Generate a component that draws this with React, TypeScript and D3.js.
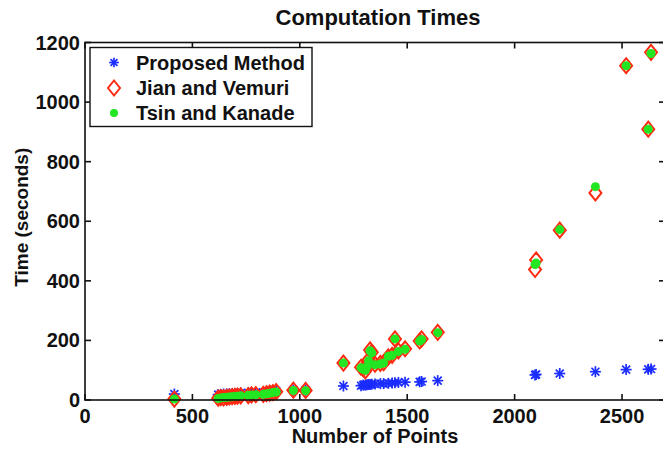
import React from "react";
import * as d3 from "d3";

// number of points in each test case
const nPoints = [
  416, 620, 632, 645, 660, 672, 685, 698, 710, 725, 760, 775, 795, 830, 845,
  860, 875, 890, 970, 1027, 1203, 1285, 1295, 1305, 1313, 1320, 1327, 1335,
  1350, 1375, 1390, 1412, 1430, 1443, 1459, 1490, 1558, 1567, 1642, 2095,
  2100, 2210, 2376, 2519, 2622, 2635,
];

// seconds
const proposedTimes = [
  20, 18, 19, 20, 20, 21, 21, 22, 22, 23, 24, 25, 25, 26, 27, 28, 29, 30, 33,
  33, 47, 48, 50, 50, 51, 52, 52, 53, 54, 55, 55, 56, 57, 58, 59, 60, 61, 62,
  65, 84, 86, 89, 95, 102, 103, 104,
];
const jianTimes = [
  3, 6, 8, 7, 9, 10, 11, 12, 13, 14, 15, 17, 18, 19, 21, 23, 25, 28, 33, 32,
  124, 110, 105, 98, 115, 135, 168, 160, 120, 123, 125, 145, 150, 205, 165,
  172, 198, 205, 227, 438, 470, 570, 695, 1122, 909, 1167,
];
const tsinTimes = [
  3, 5, 7, 8, 9, 10, 11, 12, 13, 14, 16, 17, 18, 19, 21, 23, 25, 27, 32, 31,
  124, 108, 103, 100, 112, 132, 165, 158, 118, 121, 124, 147, 150, 205, 163,
  170, 198, 203, 226, 455, 460, 572, 716, 1122, 909, 1163,
];

const xTicks = [0, 500, 1000, 1500, 2000, 2500];
const yTicks = [0, 200, 400, 600, 800, 1000, 1200];
const legendLabels = ["Proposed Method", "Jian and Vemuri", "Tsin and Kanade"];

const W = 663;
const H = 449;
const left = 85;
const right = 665;
const top = 42.5;
const bottom = 400;

const BLUE = "#1a2cff";
const RED = "#ff2a10";
const GREEN = "#22e622";
const FONT = "'Liberation Sans', Arial, Helvetica, sans-serif";

const Star = ({ x, y, r = 5.5 }: { x: number; y: number; r?: number }) => {
  const d = r * 0.72;
  return (
    <g stroke={BLUE} strokeWidth={1.7}>
      <line x1={x - r} y1={y} x2={x + r} y2={y} />
      <line x1={x} y1={y - r} x2={x} y2={y + r} />
      <line x1={x - d} y1={y - d} x2={x + d} y2={y + d} />
      <line x1={x - d} y1={y + d} x2={x + d} y2={y - d} />
    </g>
  );
};

const Diamond = ({ x, y }: { x: number; y: number }) => (
  <path
    d={`M${x},${y - 7.5}L${x + 6},${y}L${x},${y + 7.5}L${x - 6},${y}Z`}
    fill="none"
    stroke={RED}
    strokeWidth={2}
  />
);

const App = () => {
  const xScale = d3.scaleLinear().domain([0, 2700]).range([left, right]);
  const yScale = d3.scaleLinear().domain([0, 1200]).range([bottom, top]);

  return (
    <svg
      width={W}
      height={H}
      style={{ position: "fixed", left: 0, top: 0, background: "white" }}
      fontFamily={FONT}
      fontWeight="bold"
    >
      <rect width={W} height={H} fill="white" />

      {/* data */}
      {nPoints.map((n, i) => (
        <Star key={"p" + i} x={xScale(n)} y={yScale(proposedTimes[i])} />
      ))}
      {nPoints.map((n, i) => (
        <Diamond key={"j" + i} x={xScale(n)} y={yScale(jianTimes[i])} />
      ))}
      {nPoints.map((n, i) => (
        <circle
          key={"t" + i}
          cx={xScale(n)}
          cy={yScale(tsinTimes[i])}
          r={4.5}
          fill={GREEN}
        />
      ))}

      {/* axes box */}
      <rect
        x={left}
        y={top}
        width={right - left}
        height={bottom - top}
        fill="none"
        stroke="#111"
        strokeWidth={1.6}
      />
      {xTicks.map((t) => (
        <g key={"xt" + t} stroke="#111" strokeWidth={1.6}>
          <line x1={xScale(t)} x2={xScale(t)} y1={bottom} y2={bottom - 6} />
          <line x1={xScale(t)} x2={xScale(t)} y1={top} y2={top + 6} />
        </g>
      ))}
      {yTicks.map((t) => (
        <g key={"yt" + t} stroke="#111" strokeWidth={1.6}>
          <line x1={left} x2={left + 6} y1={yScale(t)} y2={yScale(t)} />
          <line x1={right} x2={right - 6} y1={yScale(t)} y2={yScale(t)} />
        </g>
      ))}
      {xTicks.map((t) => (
        <text
          key={"xl" + t}
          x={xScale(t)}
          y={423}
          textAnchor="middle"
          fontSize={20}
          fill="#111"
        >
          {t}
        </text>
      ))}
      {yTicks.map((t) => (
        <text
          key={"yl" + t}
          x={80}
          y={yScale(t) + 7}
          textAnchor="end"
          fontSize={20}
          fill="#111"
        >
          {t}
        </text>
      ))}

      {/* labels */}
      <text x={378} y={25} textAnchor="middle" fontSize={22} fill="#111">
        Computation Times
      </text>
      <text x={375} y={443} textAnchor="middle" fontSize={20} fill="#111">
        Number of Points
      </text>
      <text
        transform={`translate(28,${(top + bottom) / 2 - 4}) rotate(-90)`}
        textAnchor="middle"
        fontSize={19}
        fill="#111"
      >
        Time (seconds)
      </text>

      {/* legend */}
      <rect
        x={90}
        y={47.5}
        width={222}
        height={79}
        fill="white"
        stroke="#111"
        strokeWidth={1.4}
      />
      <Star x={114} y={62.5} r={4.8} />
      <Diamond x={114} y={88} />
      <circle cx={114} cy={113} r={4} fill={GREEN} />
      {legendLabels.map((l, i) => (
        <text key={l} x={136} y={69.5 + i * 25.3} fontSize={20} fill="#111">
          {l}
        </text>
      ))}
    </svg>
  );
};

export default App;
